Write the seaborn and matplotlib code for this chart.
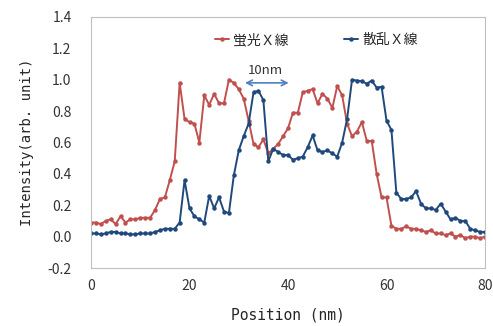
import matplotlib
matplotlib.use('Agg')
import matplotlib.pyplot as plt
import pandas as pd
import numpy as np
import seaborn as sns

# intensity profiles, one point per nm
position = list(range(0, 81))
fluor = [0.09, 0.09, 0.08, 0.10, 0.11, 0.08, 0.13, 0.09, 0.11, 0.11,
         0.12, 0.12, 0.12, 0.17, 0.24, 0.25, 0.36, 0.48, 0.98, 0.75,
         0.73, 0.72, 0.60, 0.90, 0.84, 0.91, 0.85, 0.85, 1.00, 0.98,
         0.94, 0.88, 0.74, 0.59, 0.57, 0.62, 0.53, 0.56, 0.59, 0.64,
         0.69, 0.79, 0.79, 0.92, 0.93, 0.94, 0.85, 0.91, 0.88, 0.82,
         0.96, 0.90, 0.72, 0.64, 0.67, 0.73, 0.61, 0.61, 0.40, 0.25,
         0.25, 0.07, 0.05, 0.05, 0.065, 0.05, 0.05, 0.04, 0.03, 0.04,
         0.02, 0.02, 0.01, 0.02, 0.00, 0.01, -0.01, 0.00, 0.00, -0.01,
         0.00]
scatter = [0.02, 0.02, 0.015, 0.02, 0.03, 0.03, 0.02, 0.02, 0.015, 0.015,
           0.02, 0.02, 0.02, 0.03, 0.04, 0.05, 0.05, 0.05, 0.09, 0.36,
           0.18, 0.13, 0.11, 0.09, 0.26, 0.18, 0.25, 0.16, 0.15, 0.39,
           0.55, 0.64, 0.72, 0.92, 0.93, 0.87, 0.48, 0.56, 0.54, 0.52,
           0.52, 0.49, 0.50, 0.51, 0.57, 0.645, 0.55, 0.54, 0.55, 0.53,
           0.51, 0.60, 0.75, 1.00, 0.995, 0.99, 0.975, 0.995, 0.95, 0.955,
           0.74, 0.68, 0.28, 0.24, 0.24, 0.25, 0.29, 0.21, 0.18, 0.18,
           0.17, 0.21, 0.16, 0.11, 0.12, 0.10, 0.10, 0.05, 0.04, 0.03,
           0.03]
series_names = ['蛍光Ｘ線', '散乱Ｘ線']
colors = ['#C0504D', '#1F497D']
x_ticks = [0, 20, 40, 60, 80]
y_ticks = [-0.2, 0.0, 0.2, 0.4, 0.6, 0.8, 1.0, 1.2, 1.4]

df = pd.DataFrame({'Position': position * 2,
                   'Intensity': fluor + scatter,
                   'series': [series_names[0]] * len(position) + [series_names[1]] * len(position)})

sns.set_style('white')
plt.rcParams['font.family'] = ['Noto Sans CJK JP', 'DejaVu Sans']

fig = plt.figure(figsize=(4.93, 3.26), dpi=100)
ax = fig.add_axes([91/493, 1 - 268/326, 394/493, 251/326])

sns.lineplot(data=df, x='Position', y='Intensity', hue='series',
             palette=colors, marker='o', markersize=3.2, markeredgewidth=0,
             linewidth=1.4, ax=ax)

ax.set_xlim(0, 80)
ax.set_ylim(-0.2, 1.4)
ax.set_xticks(x_ticks)
ax.set_yticks(y_ticks)
ax.set_yticklabels(['%.1f' % v for v in y_ticks])
ax.tick_params(direction='in', length=3, color='#bfbfbf', labelsize=10,
               labelcolor='#333333')
ax.tick_params(axis='y', pad=14)
ax.tick_params(axis='x', pad=8)
for s in ax.spines.values():
    s.set_color('#bfbfbf')
    s.set_linewidth(0.8)

ax.set_xlabel('Position (nm)', fontsize=10.5, family='DejaVu Sans Mono', labelpad=10)
ax.set_ylabel('Intensity(arb. unit)', fontsize=10, family='DejaVu Sans Mono', labelpad=10)

# 10nm scale arrow
ax.annotate('', xy=(30.7, 0.98), xytext=(40.7, 0.98),
            arrowprops=dict(arrowstyle='<->', color='#4F81BD', lw=1.2))
ax.text(35.5, 1.06, '10nm', ha='center', va='center', fontsize=9.5, color='#333333')

ax.legend(loc='center left', bbox_to_anchor=(0.30, 0.908), ncol=2, frameon=False,
          fontsize=10, handlelength=1.0, columnspacing=4.0, handletextpad=0.3,
          borderaxespad=0)

fig.savefig('out.png', dpi=100)
